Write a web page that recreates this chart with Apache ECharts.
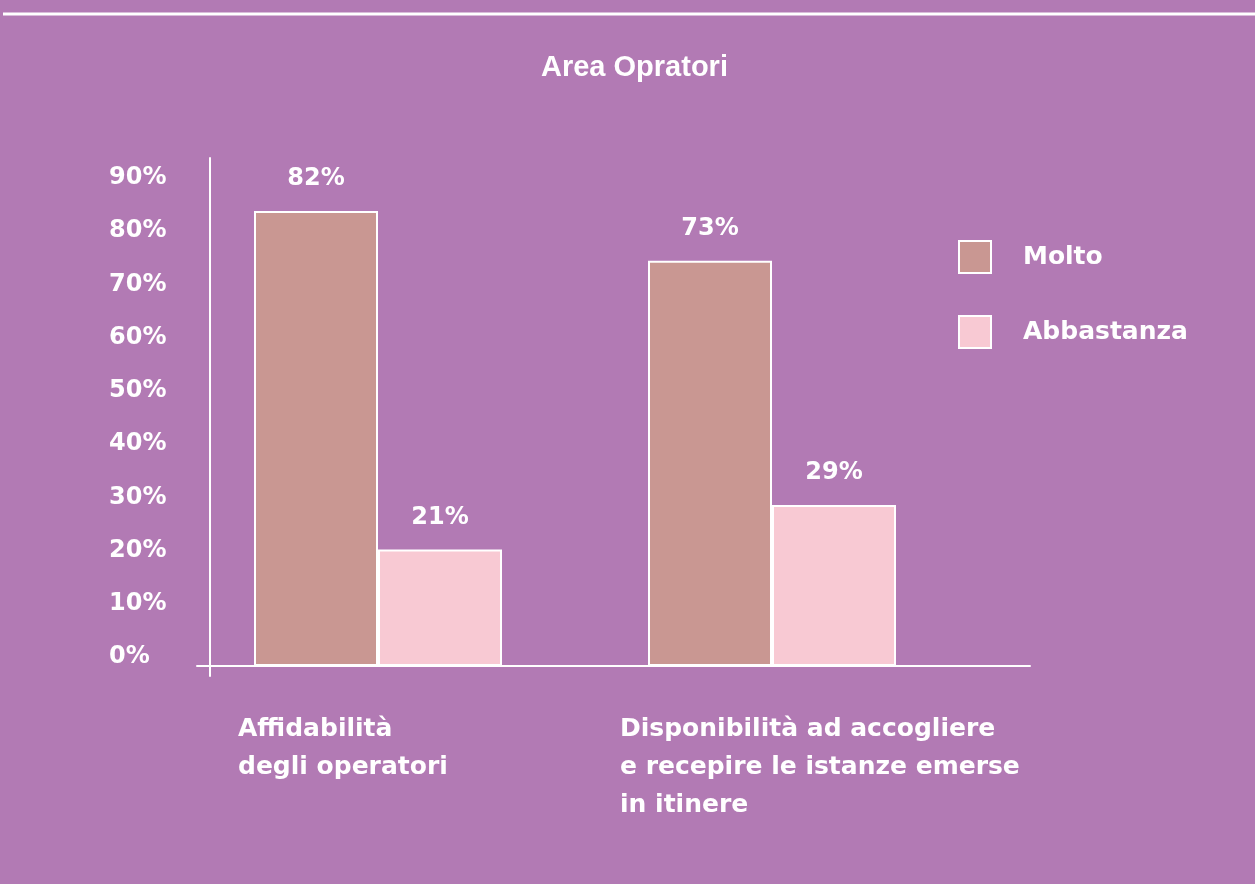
<!DOCTYPE html>
<html><head><meta charset="utf-8">
<script src="https://cdn.jsdelivr.net/npm/echarts@6/dist/echarts.min.js"></script>
<style>html,body{margin:0;padding:0;background:#B27AB4}#c{width:1255px;height:884px}</style>
</head><body><div id="c"></div>
<script>
const categories = ['Affidabilità\ndegli operatori', 'Disponibilità ad accogliere\ne recepire le istanze emerse\nin itinere'];
const seriesNames = ['Molto', 'Abbastanza'];
const molto = [82, 73];
const abbastanza = [21, 29];
const yTicks = [0, 10, 20, 30, 40, 50, 60, 70, 80, 90];

const FONT = 'DejaVu Sans';
const chart = echarts.init(document.getElementById('c'));
const labelStyle = {show: true, position: 'top', distance: 20, color: '#fff', fontFamily: FONT, fontWeight: 'bold', fontSize: 24, formatter: '{c}%'};
chart.setOption({
  backgroundColor: '#B27AB4',
  animation: false,
  title: {text: 'Area Opratori', left: 541, top: 53, padding: 0,
    textStyle: {color: '#fff', fontFamily: 'Liberation Sans', fontWeight: 'bold', fontSize: 29}},
  graphic: [{type: 'line', shape: {x1: 3, y1: 14, x2: 1255, y2: 14}, style: {stroke: '#fff', lineWidth: 3}}],
  legend: {orient: 'vertical', left: 958, top: 240, padding: 0, itemWidth: 32, itemHeight: 32, itemGap: 41, icon: 'rect',
    data: seriesNames,
    textStyle: {color: '#fff', fontFamily: FONT, fontWeight: 'bold', fontSize: 25, padding: [0, 0, 0, 27]}},
  grid: [
    {left: 181, right: 286, top: 158, bottom: 208},
    {left: 197, right: 225, top: 158, bottom: 218}
  ],
  xAxis: [
    {type: 'category', gridIndex: 0, data: categories,
      axisLine: {show: false}, axisTick: {show: false},
      axisLabel: {margin: 34, interval: 0,
        formatter: function (v, i) { return v.split('\n').map(l => '{s' + i + '|' + l + '}').join('\n'); },
        rich: {
          s0: {width: 280, align: 'left', color: '#fff', fontFamily: FONT, fontWeight: 'bold', fontSize: 25, lineHeight: 38},
          s1: {width: 304, align: 'left', color: '#fff', fontFamily: FONT, fontWeight: 'bold', fontSize: 25, lineHeight: 38}
        }}},
    {type: 'value', gridIndex: 1, min: 0, max: 1, position: 'bottom',
      axisLine: {show: true, onZero: false, lineStyle: {color: '#fff', width: 2}},
      axisTick: {show: false}, axisLabel: {show: false}, splitLine: {show: false}}
  ],
  yAxis: [
    {type: 'value', gridIndex: 0, min: -1.8, max: 91.53, show: false},
    {type: 'value', gridIndex: 0, min: -3.57, max: 93.76, position: 'left', offset: -29,
      axisLine: {show: true, lineStyle: {color: '#fff', width: 2}},
      axisTick: {show: false}, splitLine: {show: false},
      axisLabel: {customValues: yTicks, formatter: '{value}%', align: 'left', margin: 101,
        color: '#fff', fontFamily: FONT, fontWeight: 'bold', fontSize: 24}},
    {type: 'value', gridIndex: 1, min: 0, max: 1, show: false}
  ],
  series: [
    {name: seriesNames[0], type: 'bar', xAxisIndex: 0, yAxisIndex: 0, data: molto, barWidth: 124, barGap: '0%',
      itemStyle: {color: '#C99792', borderColor: '#fff', borderWidth: 2}, label: labelStyle},
    {name: seriesNames[1], type: 'bar', xAxisIndex: 0, yAxisIndex: 0, data: abbastanza, barWidth: 124, barGap: '0%',
      itemStyle: {color: '#F8C9D3', borderColor: '#fff', borderWidth: 2}, label: labelStyle}
  ]
});
</script></body></html>
